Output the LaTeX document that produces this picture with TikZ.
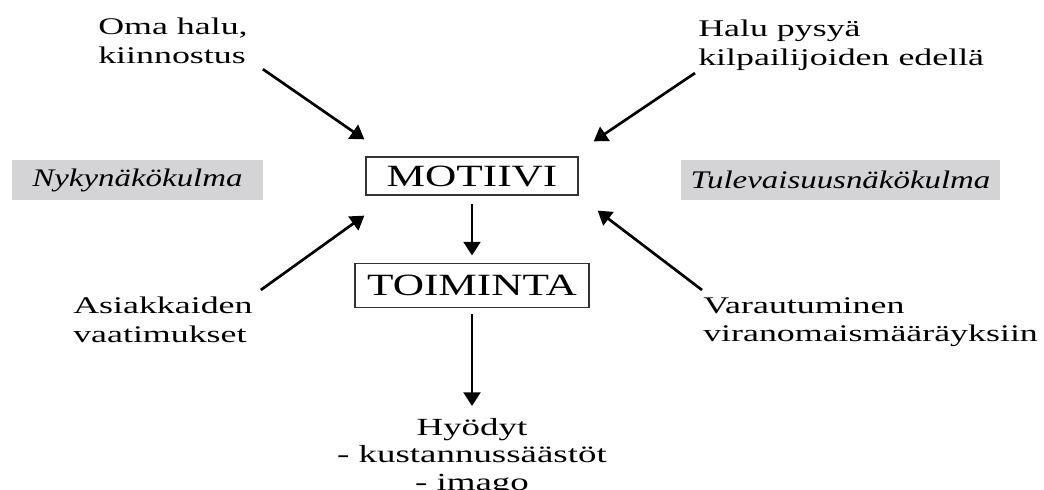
\documentclass[tikz,border=0pt]{standalone}
\usepackage{fontspec}
\setmainfont[FakeStretch=1.5]{Liberation Serif}
\newfontfamily\boxfont[FakeStretch=1.4]{Liberation Serif}
\newfontfamily\viewfont[FakeStretch=1.3]{Liberation Serif}
\usetikzlibrary{arrows.meta, positioning, calc}
\definecolor{viewgrey}{RGB}{212,212,214}

\begin{document}
\begin{tikzpicture}[
    x=0.025cm, y=-0.025cm,
    cause/.style={align=left, inner sep=0pt, anchor=north west, font=\fontsize{17}{20.5}\selectfont},
    mainbox/.style={draw=black!80, line width=0.9pt, inner sep=0pt, font=\boxfont\fontsize{22}{26}\selectfont},
    view/.style={fill=viewgrey, inner sep=0pt, minimum height=1cm, font=\viewfont\itshape\fontsize{18}{22}\selectfont},
    arrow/.style={-{Triangle[length=3.4mm,width=4.2mm]}, line width=1.9pt}
]
\useasboundingbox (0,0) rectangle (1044,490);

\node[mainbox, minimum width=5.3cm, minimum height=0.95cm] (motiivi) at (472,176) {MOTIIVI};
\node[mainbox, minimum width=5.85cm, minimum height=1.1cm, below=1.675cm of motiivi] (toiminta) {TOIMINTA};
\node[align=center, inner sep=0pt, font=\fontsize{17.5}{19.5}\selectfont, below=2.75cm of toiminta] (hyodyt) {Hyödyt\\- kustannussäästöt\\- imago};

\node[view, minimum width=6.275cm] (nyky) at (137.5,180) {Nykynäkökulma};
\node[view, minimum width=7.975cm] (tule) at (840.5,180) {Tulevaisuusnäkökulma};

\node[cause] (oma) at (98,18) {Oma halu,\\kiinnostus};
\node[cause] (halu) at (698,20) {Halu pysyä\\kilpailijoiden edellä};
\node[cause] (asiakas) at (73,297) {Asiakkaiden\\vaatimukset};
\node[cause] (varaus) at (703,297) {Varautuminen\\viranomaismääräyksiin};

\draw[arrow] ($(oma.south east)+(15,5)$) -- ($(motiivi.north west)+(-1,-17)$);
\draw[arrow] ($(halu.south west)+(-3,2)$) -- ($(motiivi.north east)+(15,-15)$);
\draw[arrow] ($(asiakas.north east)+(8,-7)$) -- ($(motiivi.south west)+(-1,20)$);
\draw[arrow] ($(varaus.north west)+(-1,-7)$) -- ($(motiivi.south east)+(19,15)$);
\draw[arrow, shorten <=2.2mm, shorten >=1.8mm] (motiivi) -- (toiminta);
\draw[arrow, shorten <=1.5mm, shorten >=3mm] (toiminta) -- (hyodyt);
\end{tikzpicture}
\end{document}
